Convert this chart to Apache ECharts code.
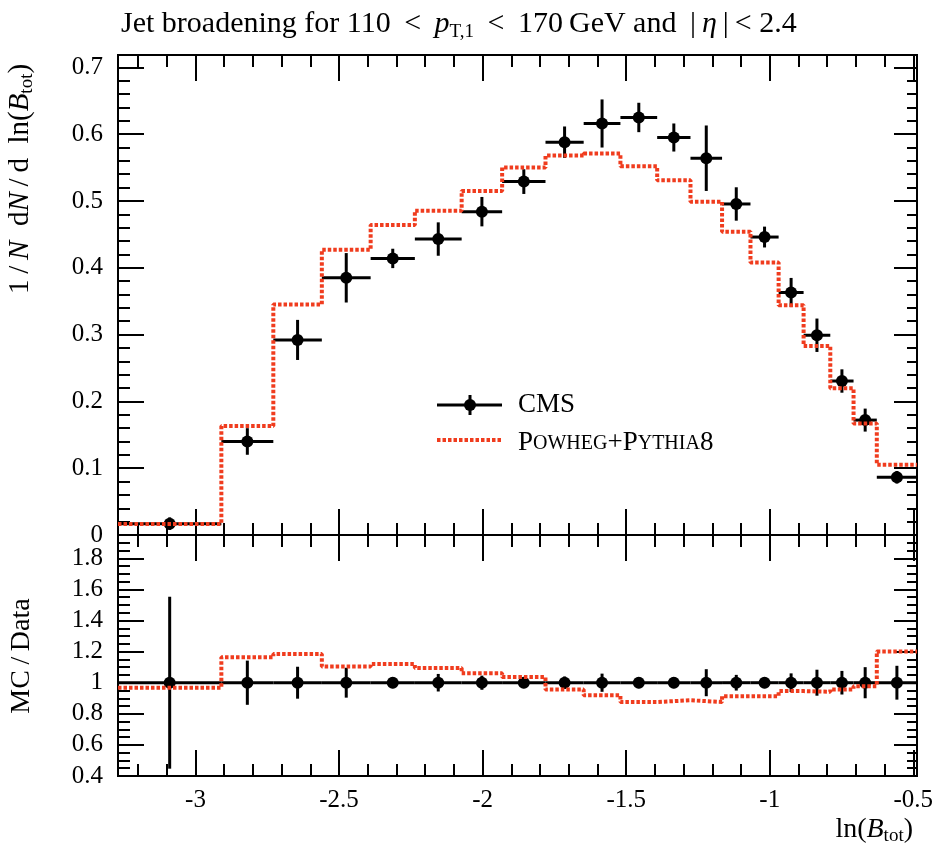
<!DOCTYPE html>
<html>
<head>
<meta charset="utf-8">
<title>Jet broadening</title>
<script src="https://cdn.jsdelivr.net/npm/echarts@6/dist/echarts.min.js"></script>
<style>
    html, body { margin: 0; padding: 0; background: #fff; }
    #main { width: 946px; height: 855px; }
</style>
</head>
<body>
<div id="main"></div>
<script>
    // bin edges in ln(B_tot)
    var binEdges = [-3.27, -2.91, -2.729, -2.56, -2.39, -2.236, -2.073, -1.932, -1.781, -1.648, -1.52,
        -1.392, -1.276, -1.166, -1.067, -0.969, -0.882, -0.789, -0.708, -0.627, -0.487];
    // CMS data
    var cmsValues = [0.017, 0.140, 0.292, 0.385, 0.414, 0.443, 0.484, 0.529, 0.588, 0.616,
        0.625, 0.595, 0.564, 0.4955, 0.446, 0.363, 0.299, 0.2305, 0.172, 0.0864];
    var cmsErrors = [0.0094, 0.0199, 0.030, 0.037, 0.0145, 0.025, 0.022, 0.0185, 0.0235, 0.036,
        0.022, 0.021, 0.049, 0.025, 0.0156, 0.0218, 0.025, 0.0175, 0.0172, 0.0094];
    // Powheg+Pythia8
    var mcValues = [0.0165, 0.163, 0.345, 0.427, 0.464, 0.4855, 0.515, 0.550, 0.568, 0.571,
        0.552, 0.531, 0.499, 0.454, 0.408, 0.344, 0.283, 0.2195, 0.167, 0.105];
    var mcRatio = [0.967, 1.163, 1.185, 1.105, 1.12, 1.094, 1.061, 1.037, 0.956, 0.919,
        0.876, 0.887, 0.876, 0.913, 0.913, 0.946, 0.942, 0.956, 0.978, 1.20];

    var xMajorTicks = [-3, -2.5, -2, -1.5, -1, -0.5];
    var yMajorTicks = [0, 0.1, 0.2, 0.3, 0.4, 0.5, 0.6, 0.7];
    var ratioMajorTicks = [0.4, 0.6, 0.8, 1, 1.2, 1.4, 1.6, 1.8];

    var xMin = -3.27, xMax = -0.487;
    var yMax = 0.7185;
    var rMin = 0.4, rMax = 1.95;

    var FONT = "'Liberation Serif', 'DejaVu Serif', serif";
    var RED = '#f03c1e';

    function minorList(from, to, step, majors) {
        var out = [];
        for (var v = from; v <= to + 1e-9; v += step) {
            var r = Math.round(v * 1000) / 1000;
            if (majors.indexOf(r) < 0) out.push(r);
        }
        return out;
    }
    var xMinorTicks = minorList(-3.2, -0.5, 0.1, xMajorTicks);
    var yMinorTicks = minorList(0, 0.7, 0.02, yMajorTicks);
    var ratioMinorTicks = minorList(0.4, 1.95, 0.05, ratioMajorTicks);

    function fmt(v) { return String(Math.round(v * 100) / 100); }

    function tickAxis(kind, grid, pos, min, max, values, len, labels) {
        var ax = {
            type: 'value', gridIndex: grid, position: pos, min: min, max: max,
            axisLine: {show: false, onZero: false},
            splitLine: {show: false},
            axisTick: {show: true, inside: true, length: len, customValues: values,
                lineStyle: {color: '#000', width: 2}},
            axisLabel: {show: false}
        };
        if (labels) {
            ax.axisLabel = {show: true, customValues: values, formatter: fmt,
                fontFamily: FONT, fontSize: 25, color: '#000',
                margin: kind === 'x' ? 12 : 15};
        }
        return ax;
    }

    var xAxes = [], yAxes = [];
    [0, 1].forEach(function (g) {
        xAxes.push(tickAxis('x', g, 'bottom', xMin, xMax, xMajorTicks, 26, g === 1));
        xAxes.push(tickAxis('x', g, 'bottom', xMin, xMax, xMinorTicks, 12, false));
        xAxes.push(tickAxis('x', g, 'top', xMin, xMax, xMajorTicks, 26, false));
        xAxes.push(tickAxis('x', g, 'top', xMin, xMax, xMinorTicks, 12, false));
    });
    yAxes.push(tickAxis('y', 0, 'left', 0, yMax, yMajorTicks, 26, true));
    yAxes.push(tickAxis('y', 0, 'left', 0, yMax, yMinorTicks, 12, false));
    yAxes.push(tickAxis('y', 0, 'right', 0, yMax, yMajorTicks, 23, false));
    yAxes.push(tickAxis('y', 0, 'right', 0, yMax, yMinorTicks, 10, false));
    yAxes.push(tickAxis('y', 1, 'left', rMin, rMax, ratioMajorTicks, 26, true));
    yAxes.push(tickAxis('y', 1, 'left', rMin, rMax, ratioMinorTicks, 12, false));
    yAxes.push(tickAxis('y', 1, 'right', rMin, rMax, ratioMajorTicks, 23, false));
    yAxes.push(tickAxis('y', 1, 'right', rMin, rMax, ratioMinorTicks, 10, false));

    // histogram outline: one point per edge, last bin repeated
    function stepData(vals) {
        return binEdges.map(function (e, i) {
            return [e, vals[Math.min(i, vals.length - 1)]];
        });
    }

    // [xlo, xhi, xc, y, ylo, yhi]
    var cmsPoints = cmsValues.map(function (v, i) {
        var c = (binEdges[i] + binEdges[i + 1]) / 2;
        return [binEdges[i], binEdges[i + 1], c, v, v - cmsErrors[i], v + cmsErrors[i]];
    });
    var cmsRatioPoints = cmsValues.map(function (v, i) {
        var c = (binEdges[i] + binEdges[i + 1]) / 2;
        var rel = cmsErrors[i] / v;
        return [binEdges[i], binEdges[i + 1], c, 1, 1 - rel, 1 + rel];
    });

    function renderPoint(params, api) {
        var l = api.coord([api.value(0), api.value(3)]);
        var r = api.coord([api.value(1), api.value(3)]);
        var c = api.coord([api.value(2), api.value(3)]);
        var lo = api.coord([api.value(2), api.value(4)]);
        var hi = api.coord([api.value(2), api.value(5)]);
        var st = {stroke: '#000', lineWidth: 3};
        return {
            type: 'group', children: [
                {type: 'line', shape: {x1: l[0], y1: l[1], x2: r[0], y2: r[1]}, style: st},
                {type: 'line', shape: {x1: c[0], y1: lo[1], x2: c[0], y2: hi[1]}, style: st},
                {type: 'circle', shape: {cx: c[0], cy: c[1], r: 6}, style: {fill: '#000'}}
            ]
        };
    }

    var mcLine = {color: RED, width: 4, type: [3.5, 2]};

    var txt = {fontFamily: FONT, fontWeight: 'normal', color: '#000'};
    function rs(extra) { return Object.assign({}, txt, extra); }

    var myChart = echarts.init(document.getElementById('main'));
    myChart.setOption({
        backgroundColor: '#fff',
        animation: false,
        title: {
            left: 116, top: 1,
            text: '{t|Jet broadening for 110 \u2009<\u2009 }{i|p}{s|T,1}{t| \u2009<\u2009 170\u2009GeV and \u2009|\u2009}{i|η}{t|\u2009|\u2009< 2.4}',
            textStyle: {
                fontWeight: 'normal',
                rich: {
                    t: rs({fontSize: 30, lineHeight: 36}),
                    i: rs({fontSize: 30, lineHeight: 36, fontStyle: 'italic'}),
                    s: rs({fontSize: 19, lineHeight: 19, verticalAlign: 'bottom'})
                }
            }
        },
        grid: [
            {left: 118, top: 55, width: 799, height: 480, show: true, borderColor: '#000', borderWidth: 2, backgroundColor: 'transparent'},
            {left: 118, top: 535, width: 799, height: 241, show: true, borderColor: '#000', borderWidth: 2, backgroundColor: 'transparent'}
        ],
        xAxis: xAxes,
        yAxis: yAxes,
        series: [
            {
                name: 'CMS', type: 'custom', xAxisIndex: 0, yAxisIndex: 0, z: 2,
                data: cmsPoints, renderItem: renderPoint
            },
            {
                name: 'Powheg+Pythia8', type: 'line', xAxisIndex: 0, yAxisIndex: 0, z: 3,
                step: 'end', showSymbol: false, data: stepData(mcValues), lineStyle: mcLine
            },
            {
                name: 'CMS ratio', type: 'custom', xAxisIndex: 4, yAxisIndex: 4, z: 2,
                data: cmsRatioPoints, renderItem: renderPoint
            },
            {
                name: 'MC/Data', type: 'line', xAxisIndex: 4, yAxisIndex: 4, z: 3,
                step: 'end', showSymbol: false, data: stepData(mcRatio), lineStyle: mcLine
            }
        ],
        graphic: [
            // legend
            {type: 'line', shape: {x1: 437, y1: 405, x2: 502, y2: 405}, style: {stroke: '#000', lineWidth: 3}},
            {type: 'line', shape: {x1: 470, y1: 395, x2: 470, y2: 415}, style: {stroke: '#000', lineWidth: 3}},
            {type: 'circle', shape: {cx: 470, cy: 405, r: 6}, style: {fill: '#000'}},
            {type: 'text', x: 518, y: 405, style: {text: 'CMS', font: '27px ' + FONT, fill: '#000', verticalAlign: 'middle'}},
            {type: 'line', shape: {x1: 437, y1: 440, x2: 502, y2: 440}, style: {stroke: RED, lineWidth: 4, lineDash: [3.5, 2]}},
            {
                type: 'text', x: 518, y: 441,
                style: {
                    text: '{b|P}{c|OWHEG}{b|+P}{c|YTHIA}{b|8}', verticalAlign: 'middle', fill: '#000',
                    rich: {
                        b: {fontFamily: FONT, fontSize: 27, lineHeight: 30, verticalAlign: 'bottom'},
                        c: {fontFamily: FONT, fontSize: 20, lineHeight: 22, verticalAlign: 'bottom', padding: [0, 0, 2, 0]}
                    }
                }
            },
            // y axis titles
            {
                type: 'text', x: 20, y: 179, rotation: Math.PI / 2,
                style: {
                    text: '{t|1\u2009/\u2009}{i|N}{t|  d}{i|N}{t|\u2009/\u2009d  ln(}{i|B}{s|tot}{t|)}', align: 'center', verticalAlign: 'middle', fill: '#000',
                    rich: {
                        t: {fontFamily: FONT, fontSize: 29, lineHeight: 34},
                        i: {fontFamily: FONT, fontSize: 29, lineHeight: 34, fontStyle: 'italic'},
                        s: {fontFamily: FONT, fontSize: 19, lineHeight: 19, verticalAlign: 'bottom'}
                    }
                }
            },
            {
                type: 'text', x: 22, y: 656, rotation: Math.PI / 2,
                style: {text: 'MC\u2009/\u2009Data', font: '28px ' + FONT, fill: '#000', align: 'center', verticalAlign: 'middle'}
            },
            // x axis title
            {
                type: 'text', x: 913, y: 830,
                style: {
                    text: '{t|ln(}{i|B}{s|tot}{t|)}', align: 'right', verticalAlign: 'middle', fill: '#000',
                    rich: {
                        t: {fontFamily: FONT, fontSize: 28, lineHeight: 32},
                        i: {fontFamily: FONT, fontSize: 28, lineHeight: 32, fontStyle: 'italic'},
                        s: {fontFamily: FONT, fontSize: 19, lineHeight: 19, verticalAlign: 'bottom'}
                    }
                }
            }
        ]
    });
</script>
</body>
</html>
